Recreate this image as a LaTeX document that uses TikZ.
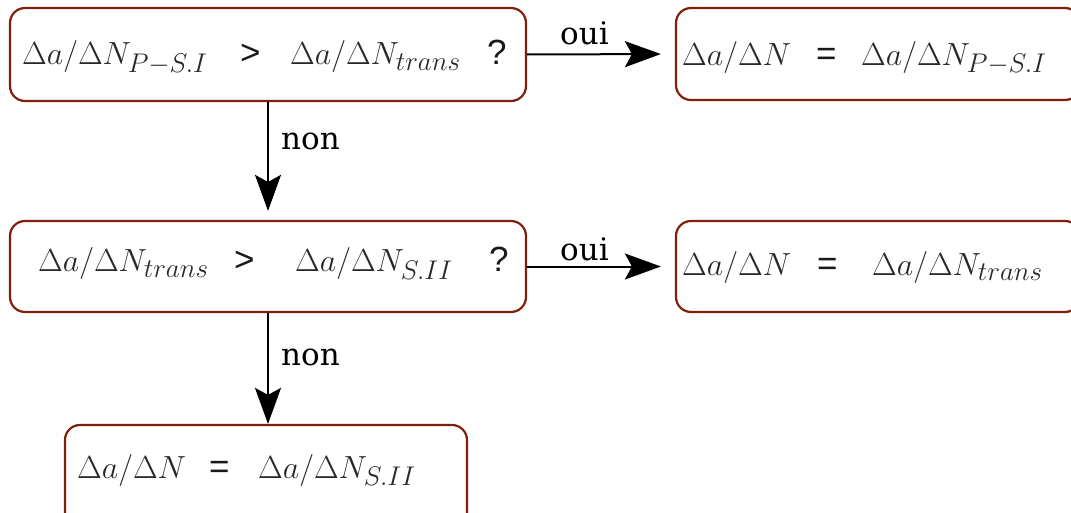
\RequirePackage{fix-cm}
\documentclass[tikz,border=0pt]{standalone}
\usepackage{fontspec}
\usetikzlibrary{arrows.meta}
\DeclareMathSizes{32}{32}{27}{21}
\newfontfamily\symfont{Liberation Sans}
\newfontfamily\labfont{DejaVu Serif}
\definecolor{boxred}{RGB}{128,32,12}
\definecolor{mathgrey}{RGB}{40,40,40}
\tikzset{
  box/.style={draw=boxred, line width=2.2pt, rounded corners=15pt, rectangle, inner sep=0pt},
  mtext/.style={anchor=base west, inner sep=0pt, text=mathgrey, font=\fontsize{32}{38}\selectfont},
  stext/.style={anchor=base west, inner sep=0pt, text=black!90, font=\fontsize{35}{40}\selectfont\symfont},
  lab/.style={anchor=base west, inner sep=0pt, font=\fontsize{31}{36}\selectfont\labfont},
  conn/.style={line width=2pt, -{Stealth[length=36pt,width=26pt,inset=7pt]}}
}
\begin{document}
\begin{tikzpicture}[x=1pt,y=-1pt]
\useasboundingbox (0,0) rectangle (1071,513);
% boxes
\node[box, minimum width=516pt, minimum height=93pt] (b1) at (268,54.5) {};
\node[box, minimum width=404pt, minimum height=92pt] (b2) at (878,54) {};
\node[box, minimum width=516pt, minimum height=91pt] (b3) at (268,266.5) {};
\node[box, minimum width=404pt, minimum height=91pt] (b4) at (878,266.5) {};
\node[box, minimum width=402pt, minimum height=105pt] (b5) at (266,477.5) {};
% box 1
\node[mtext] (t1a) at (22,65) {$\Delta a/\Delta N_{P-S.I}$};
\node[stext] (t1b) at (240,65) {>};
\node[mtext] (t1c) at (290,65) {$\Delta a/\Delta N_{trans}$};
\node[stext] (t1d) at (487,65) {?};
% box 2
\node[mtext] (t2a) at (682,65.5) {$\Delta a/\Delta N$};
\node[stext] (t2b) at (816,65.5) {=};
\node[mtext] (t2c) at (861,65.5) {$\Delta a/\Delta N_{P-S.I}$};
% box 3
\node[mtext] (t3a) at (38,272) {$\Delta a/\Delta N_{trans}$};
\node[stext] (t3b) at (234,272) {>};
\node[mtext] (t3c) at (295,272) {$\Delta a/\Delta N_{S.II}$};
\node[stext] (t3d) at (489,272) {?};
% box 4
\node[mtext] (t4a) at (682,275) {$\Delta a/\Delta N$};
\node[stext] (t4b) at (817,275) {=};
\node[mtext] (t4c) at (872,275) {$\Delta a/\Delta N_{trans}$};
% box 5
\node[mtext] (t5a) at (77,478) {$\Delta a/\Delta N$};
\node[stext] (t5b) at (209,478) {=};
\node[mtext] (t5c) at (258,478) {$\Delta a/\Delta N_{S.II}$};
% connectors
\draw[conn, shorten >=14pt] (b1.east) -- (b2.west);
\draw[conn, shorten >=14pt] (b3.east) -- (b4.west);
\draw[conn, shorten >=9pt] (b1.south) -- (b3.north);
\draw[conn] (b3.south) -- (b3.south |- b5.north);
% labels
\node[lab] (l1) at (560,45) {oui};
\node[lab] (l2) at (560,260) {oui};
\node[lab] (l3) at (281,150) {non};
\node[lab] (l4) at (281,365) {non};
\end{tikzpicture}
\end{document}
